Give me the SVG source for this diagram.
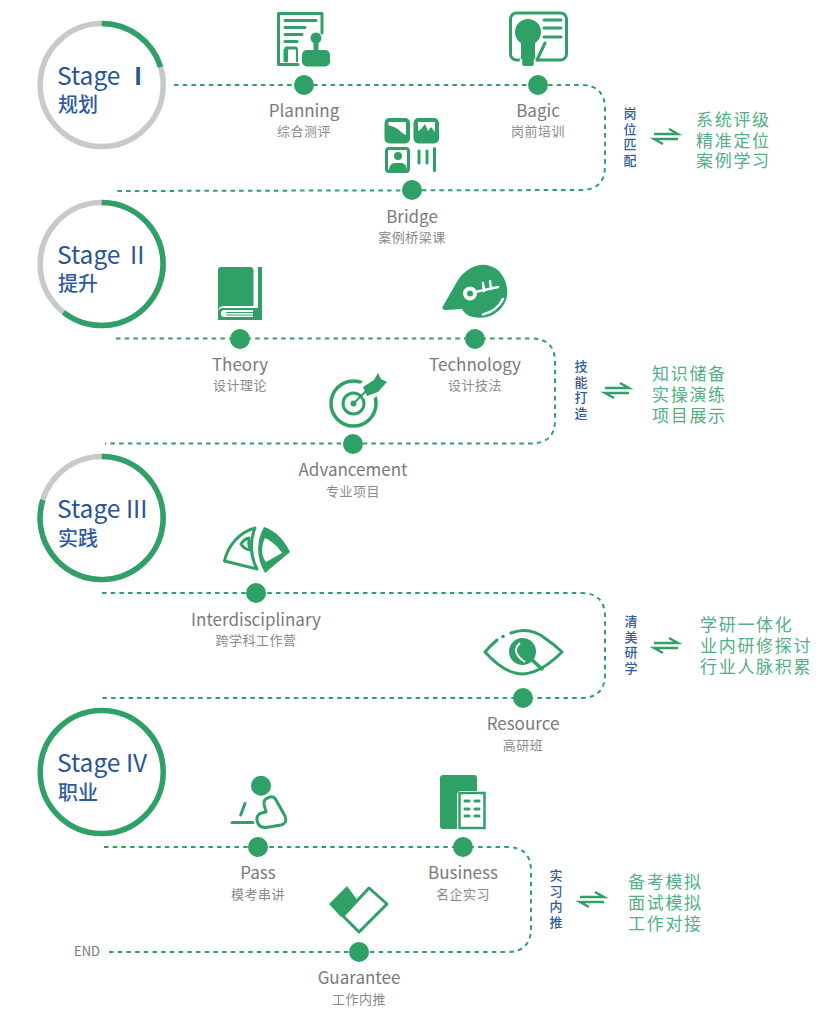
<svg xmlns="http://www.w3.org/2000/svg" width="830" height="1014" viewBox="0 0 830 1014">
<style>
text{font-family:"Noto Sans CJK SC","Noto Sans",sans-serif}
.ring{fill:none;stroke-width:5.5}
.g{stroke:#2fa066}.y{stroke:#c8c9c9}
.st{font-size:24.500px;fill:#2b5595}
.sc{font-size:20px;fill:#2f5c9e;font-weight:500}
.lb{font-size:17px;fill:#7a7a7a;text-anchor:middle}
.sb{font-size:13px;fill:#8a8a8a;text-anchor:middle;letter-spacing:.5px}
.vt{font-size:13px;fill:#2f5c9e;font-weight:500;writing-mode:vertical-rl;letter-spacing:2.500px}
.rt{font-size:17px;fill:#52b084;letter-spacing:1.700px}
.dash{fill:none;stroke:#2fa066;stroke-width:2;stroke-dasharray:4.500 4.200}
.dot{fill:#2fa066}
.f{fill:#2fa066}
.o{fill:none;stroke:#2fa066;stroke-width:3;stroke-linecap:round;stroke-linejoin:round}
.w{fill:#fff}
.wo{fill:none;stroke:#fff;stroke-width:2.500;stroke-linecap:round}
.ar{fill:none;stroke:#2fa066;stroke-width:2.400}
</style>
<defs>
<g id="arrows"><path class="ar" d="M0 5H24L15 0M24 10H0L9 15"/></g>
</defs>
<g id="connectors">
<path class="dash" d="M174 85H581Q605 85 605 109V166Q605 190 581 190L117 191"/>
<path class="dash" d="M116 338.500H531Q555 338.500 555 362V420Q555 443.500 531 443.500H105"/>
<path class="dash" d="M102 593H581Q605 593 605 617V674Q605 698 581 698H100"/>
<path class="dash" d="M104 847H507Q531 847 531 871V928Q531 952 507 952H107"/>
</g>
<g id="stage1">
<circle class="ring y" cx="101.700" cy="85" r="61.500"/>
<path class="ring g" d="M101.700 23.500A61.500 61.500 0 0 1 160.500 67"/>
<text class="st" x="57" y="85">Stage</text><text class="st" x="134" y="85" font-weight="700">I</text>
<text class="sc" x="58" y="112">规划</text>
</g>
<g id="stage2">
<circle class="ring y" cx="101.700" cy="264" r="61.500"/>
<path class="ring g" d="M101.700 202.500A61.500 61.500 0 1 1 63.500 312.300"/>
<text class="st" x="57" y="264">Stage</text><text class="st" x="130" y="264">II</text>
<text class="sc" x="58" y="291" font-size="23">提升</text>
</g>
<g id="stage3">
<circle class="ring y" cx="101.700" cy="518" r="61.500"/>
<path class="ring g" d="M101.700 456.500A61.500 61.500 0 1 1 42.800 500"/>
<text class="st" x="57" y="518">Stage III</text>
<text class="sc" x="58" y="546">实践</text>
</g>
<g id="stage4">
<circle class="ring g" cx="101.700" cy="772" r="61.500"/>
<text class="st" x="57" y="772">Stage IV</text>
<text class="sc" x="58" y="800">职业</text>
</g>
<g id="planning">
<path class="o" d="M298 64.500H278.500V13.500H322V33"/>
<path class="o" stroke-width="2.500" d="M285 20.500H316M285 27.500H305M285 34.500H302M285 41.500H297M296 48H286M286 48V61"/>
<path d="M297 48V62" stroke="#2fa066" stroke-width="2" fill="none"/>
<rect class="f" x="283.500" y="49" width="4.500" height="13"/>
<circle class="f" cx="316" cy="38" r="5.500"/><rect class="f" x="313.500" y="40" width="5" height="12"/>
<rect class="f" x="302" y="50" width="28" height="16.500" rx="5"/>
<circle class="dot" cx="304" cy="85" r="10"/>
<text class="lb" x="304" y="117">Planning</text><text class="sb" x="304" y="136">综合测评</text>
</g>
<g id="bagic">
<rect class="o" x="510.500" y="13" width="56" height="47" rx="6" stroke-width="3.500"/>
<circle class="f" cx="528" cy="32" r="13"/><path class="f" d="M521 38H535V62Q535 66 531 66H525Q521 66 521 62Z"/>
<path class="wo" d="M521 66V60M535 66V60"/>
<path class="o" stroke-width="2.500" d="M544 20H561M544 28H561M544 37H561M537 60L545 43"/>
<circle class="dot" cx="538" cy="85" r="10"/>
<text class="lb" x="538" y="117">Bagic</text><text class="sb" x="538" y="136">岗前培训</text>
</g>
<g id="bridge">
<rect class="f" x="384.500" y="118" width="25.500" height="25.500" rx="5"/>
<path class="w" d="M388.500 122H406V135C401 133 399 129 395 127.500C393 126.500 390 126 388.500 125Z"/>
<rect class="f" x="413.500" y="118" width="25.500" height="25.500" rx="5"/>
<path class="w" d="M418 131V122H435V132L431 127L428 131L425 124L421 129Z"/>
<rect class="o" x="386.500" y="148.500" width="22" height="23" rx="2.500"/>
<circle class="f" cx="398" cy="156" r="4"/><path class="f" d="M389 171Q389 164 394 163L402 163Q407 164 407 171Z"/>
<path class="o" d="M419 151V163M427 151V163M434.500 148.500V170.500"/>
<circle class="dot" cx="412" cy="190" r="10"/>
<text class="lb" x="412" y="223">Bridge</text><text class="sb" x="412" y="242">案例桥梁课</text>
</g>
<g id="theory">
<path class="f" d="M221 267H250Q253.500 267 253.500 270.500V306H224Q218 306 218 312V270Q218 267 221 267Z"/>
<path class="f" d="M258 267H262V320H218V312Q218 308 224 308H258Z"/>
<path class="w" d="M224 310H253V317H224Q221 317 221 313.500T224 310Z"/>
<path d="M226 312.500H254M226 315H254" stroke="#2fa066" stroke-width="1"/>
<circle class="dot" cx="240" cy="339" r="10"/>
<text class="lb" x="240" y="371">Theory</text><text class="sb" x="240" y="390">设计理论</text>
</g>
<g id="technology">
<path class="f" d="M442.500 307L458 280C466 268 480 262 490 266C505 270 510 290 506 300C500 315 485 320 473 317C468 316 464 313 462 309L446 310Q442 310 442.500 307Z"/>
<circle cx="470" cy="293.500" r="5" fill="none" stroke="#fff" stroke-width="4"/>
<path class="wo" stroke-width="4" stroke-linecap="butt" d="M475 292L498 287M484 291L483 283M491 289L490 281"/>
<path class="wo" stroke-width="3" d="M483 314.500Q497 311 503 299"/>
<circle class="dot" cx="475" cy="339" r="10"/>
<text class="lb" x="475" y="371">Technology</text><text class="sb" x="475" y="390">设计技法</text>
</g>
<g id="advancement">
<circle cx="353.500" cy="403.500" r="22.500" fill="none" stroke="#2fa066" stroke-width="3.500"/>
<circle cx="353.500" cy="403.500" r="10.500" fill="none" stroke="#2fa066" stroke-width="3"/>
<circle class="f" cx="353.500" cy="403.500" r="3"/>
<path class="w" d="M360 384L376 369L392 382L372 400L363 398Z"/>
<path d="M353.500 403.500L369 388" stroke="#2fa066" stroke-width="2"/>
<path class="f" d="M363 387L374 380L378 373L381 379L387 382L378 392L367 396Z"/>
<circle class="dot" cx="353" cy="444" r="10"/>
<text class="lb" x="353" y="476">Advancement</text><text class="sb" x="353" y="496">专业项目</text>
</g>
<g id="interdisciplinary">
<path class="o" stroke-width="2.500" d="M224.500 561C228 545 240 532 255 528C250 540 250 556 257 569Z"/>
<path class="o" stroke-width="2" d="M241 544Q244 539 249 538Q248 544 250 550Q244 549 241 544Z"/>
<path class="f" d="M264 527C275 530 285 541 290 552L265 573C256 558 256 541 264 527Z"/>
<path class="w" d="M265 538C272 541 279 548 282 553L266 562C261 556 261 546 265 538Z"/>
<circle class="dot" cx="256" cy="593" r="10"/>
<text class="lb" x="256" y="626">Interdisciplinary</text><text class="sb" x="256" y="645">跨学科工作营</text>
</g>
<g id="resource">
<path class="o" d="M511 633Q530 626 546 639Q555 645 562 652C552 662 538 673 523 674C508 674 494 662 485 652Q491 645 497 640"/>
<circle class="f" cx="503" cy="636.500" r="1.800"/>
<circle class="f" cx="522.500" cy="651.500" r="13.500"/>
<path d="M520 643Q510 652 525 662" fill="none" stroke="#fff" stroke-width="2"/>
<path d="M530 658L543 670" stroke="#2fa066" stroke-width="3.500"/>
<circle class="dot" cx="523" cy="698" r="10"/>
<text class="lb" x="523" y="730">Resource</text><text class="sb" x="523" y="750">高研班</text>
</g>
<g id="pass">
<circle class="f" cx="261" cy="785.700" r="10"/>
<path class="o" d="M245 803.500L240.700 815M232 822.500H253"/>
<path class="o" d="M264 804Q263 799 270 797Q274 796 276 800L285 816Q288 823 281 825L266 827.500Q258 828 257 820Q256 813 266 812Z"/>
<circle class="dot" cx="258" cy="847" r="10"/>
<text class="lb" x="258" y="879">Pass</text><text class="sb" x="258" y="899">模考串讲</text>
</g>
<g id="business">
<path class="f" d="M440 778Q440 775 443 775H474Q477 775 477 778V791H461Q457 791 457 795V829H443Q440 829 440 826Z"/>
<rect x="459.500" y="793" width="25" height="35" fill="none" stroke="#2fa066" stroke-width="2.500"/>
<path d="M465 801H469M475 801H479M465 809H469M475 809H479M465 816H469M475 816H479" stroke="#2fa066" stroke-width="3" stroke-linecap="round"/>
<circle class="dot" cx="463" cy="847" r="10"/>
<text class="lb" x="463" y="879">Business</text><text class="sb" x="463" y="899">名企实习</text>
</g>
<g id="guarantee">
<path class="f" d="M329 904L347 886L358 901L341 917Z"/>
<path class="o" d="M343 916L369 888L387 904L359 932Z"/>
<circle class="dot" cx="359" cy="952" r="10"/>
<text class="lb" x="359" y="984">Guarantee</text><text class="sb" x="359" y="1004">工作内推</text>
</g>
<text x="74" y="956" font-size="13" fill="#7a7a7a">END</text>
<g id="note1">
<text class="vt" x="630" y="107">岗位匹配</text>
<use href="#arrows" x="654" y="129"/>
<text class="rt"><tspan x="696" y="126">系统评级</tspan><tspan x="696" y="147">精准定位</tspan><tspan x="696" y="167">案例学习</tspan></text>
</g>
<g id="note2">
<text class="vt" x="581" y="360">技能打造</text>
<use href="#arrows" x="605" y="383"/>
<text class="rt"><tspan x="652" y="380">知识储备</tspan><tspan x="652" y="401">实操演练</tspan><tspan x="652" y="422">项目展示</tspan></text>
</g>
<g id="note3">
<text class="vt" x="631" y="615">清美研学</text>
<use href="#arrows" x="654" y="638"/>
<text class="rt"><tspan x="700" y="631">学研一体化</tspan><tspan x="700" y="652">业内研修探讨</tspan><tspan x="700" y="673">行业人脉积累</tspan></text>
</g>
<g id="note4">
<text class="vt" x="556" y="869">实习内推</text>
<use href="#arrows" x="580" y="892"/>
<text class="rt"><tspan x="628" y="888">备考模拟</tspan><tspan x="628" y="909">面试模拟</tspan><tspan x="628" y="930">工作对接</tspan></text>
</g>
</svg>
